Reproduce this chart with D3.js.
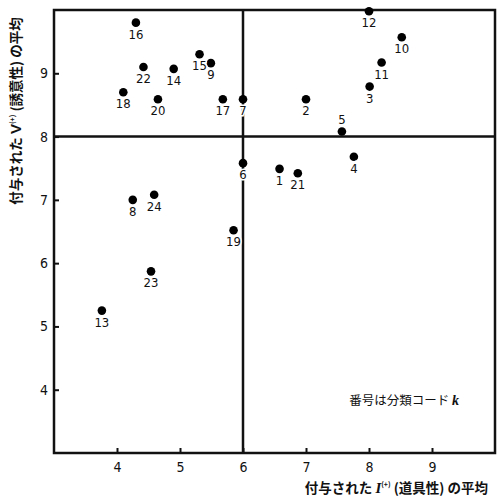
<!DOCTYPE html>
<html>
<head>
<meta charset="utf-8">
<script src="https://cdn.jsdelivr.net/npm/d3@7"></script>
<style>
  body { margin: 0; background: #fff; }
  svg { display: block; }
</style>
</head>
<body>
<div id="container"></div>
<script>
// category codes k with mean I(+) (instrumentality) and mean V(+) (valence)
const codes = [1, 2, 3, 4, 5, 6, 7, 8, 9, 10, 11, 12, 13, 14, 15, 16, 17, 18, 19, 20, 21, 22, 23, 24]
const meanI = [6.58, 7.0, 8.01, 7.76, 7.57, 6.0, 6.0, 4.25, 5.49, 8.52, 8.2, 8.0, 3.76, 4.9, 5.31, 4.3, 5.68, 4.1, 5.85, 4.65, 6.87, 4.42, 4.54, 4.59]
const meanV = [7.49, 8.59, 8.79, 7.68, 8.08, 7.58, 8.59, 7.0, 9.16, 9.57, 9.17, 9.98, 5.25, 9.07, 9.3, 9.8, 8.59, 8.7, 6.52, 8.59, 7.42, 9.1, 5.87, 7.08]
const labelAbove = [5]
const xTicks = [4, 5, 6, 7, 8, 9]
const yTicks = [4, 5, 6, 7, 8, 9]
const xSplit = 6
const ySplit = 8

const width = 497
const height = 501
const margin = { top: 10, right: 2, bottom: 48, left: 54 }
const labelFont = '"Liberation Sans Narrow", "DejaVu Sans Condensed", "Liberation Sans", sans-serif'
const jpFont = '"Noto Sans CJK JP", sans-serif'

const svg = d3.select('#container')
  .append('svg')
  .attr('width', width)
  .attr('height', height)

const x = d3.scaleLinear().domain([3, 10]).range([margin.left, width - margin.right])
const y = d3.scaleLinear().domain([3, 10]).range([height - margin.bottom, margin.top])

// axes with short inward ticks
const xAxis = svg.append('g')
  .attr('transform', `translate(0,${y(3)})`)
  .call(d3.axisBottom(x).tickValues(xTicks).tickSize(-5).tickPadding(9).tickFormat(d3.format('d')))
xAxis.select('.domain').remove()
xAxis.selectAll('line').attr('stroke', '#111').attr('stroke-width', 2)
xAxis.selectAll('text')
  .attr('font-family', labelFont)
  .attr('font-size', 14)
  .attr('fill', '#111')

const yAxis = svg.append('g')
  .attr('transform', `translate(${x(3)},0)`)
  .call(d3.axisLeft(y).tickValues(yTicks).tickSize(-5).tickPadding(6).tickFormat(d3.format('d')))
yAxis.select('.domain').remove()
yAxis.selectAll('line').attr('stroke', '#111').attr('stroke-width', 2)
yAxis.selectAll('text')
  .attr('font-family', labelFont)
  .attr('font-size', 14)
  .attr('fill', '#111')

// frame
svg.append('rect')
  .attr('x', x(3))
  .attr('y', y(10))
  .attr('width', x(10) - x(3))
  .attr('height', y(3) - y(10))
  .attr('fill', 'none')
  .attr('stroke', '#111')
  .attr('stroke-width', 2.5)

// quadrant lines
svg.append('line')
  .attr('x1', x(xSplit)).attr('x2', x(xSplit))
  .attr('y1', y(10)).attr('y2', y(3))
  .attr('stroke', '#111').attr('stroke-width', 2.5)
svg.append('line')
  .attr('x1', x(3)).attr('x2', x(10))
  .attr('y1', y(ySplit)).attr('y2', y(ySplit))
  .attr('stroke', '#111').attr('stroke-width', 2.5)

const points = codes.map((k, i) => ({ k: k, xi: meanI[i], vi: meanV[i] }))

svg.append('g')
  .selectAll('circle')
  .data(points)
  .enter()
  .append('circle')
  .attr('cx', d => x(d.xi))
  .attr('cy', d => y(d.vi))
  .attr('r', 4.3)
  .attr('fill', '#000')

// labels knock out the lines behind them, like the printed figure
svg.append('g')
  .selectAll('text')
  .data(points)
  .enter()
  .append('text')
  .attr('x', d => x(d.xi))
  .attr('y', d => labelAbove.includes(d.k) ? y(d.vi) - 8 : y(d.vi) + 16)
  .attr('text-anchor', 'middle')
  .attr('font-family', labelFont)
  .attr('font-size', 13)
  .attr('fill', '#111')
  .attr('stroke', '#fff')
  .attr('stroke-width', 3)
  .attr('paint-order', 'stroke')
  .text(d => d.k)

// note
const note = svg.append('text')
  .attr('x', 459)
  .attr('y', 405)
  .attr('text-anchor', 'end')
  .attr('font-family', jpFont)
  .attr('font-size', 12.5)
  .attr('fill', '#111')
note.append('tspan').text('番号は分類コード ')
note.append('tspan')
  .attr('font-family', '"Liberation Serif", serif')
  .attr('font-style', 'italic')
  .attr('font-weight', 'bold')
  .attr('font-size', 14)
  .text('k')

// x title
const xTitle = svg.append('text')
  .attr('x', 488)
  .attr('y', 493)
  .attr('text-anchor', 'end')
  .attr('font-family', jpFont)
  .attr('font-weight', 'bold')
  .attr('font-size', 13.5)
  .attr('fill', '#111')
xTitle.append('tspan').text('付与された ')
xTitle.append('tspan')
  .attr('font-family', '"Liberation Serif", serif')
  .attr('font-style', 'italic')
  .attr('font-size', 15)
  .text('I')
xTitle.append('tspan').attr('font-size', 7).attr('dy', -6).text('(+)')
xTitle.append('tspan').attr('dy', 6).text(' (道具性) の平均')

// y title
const yTitle = svg.append('text')
  .attr('transform', 'translate(21,111) rotate(-90)')
  .attr('text-anchor', 'middle')
  .attr('font-family', jpFont)
  .attr('font-weight', 'bold')
  .attr('font-size', 13.5)
  .attr('fill', '#111')
yTitle.append('tspan').text('付与された ')
yTitle.append('tspan')
  .attr('font-family', '"Liberation Sans", sans-serif')
  .attr('font-size', 15)
  .text('V')
yTitle.append('tspan').attr('font-size', 7).attr('dy', -6).text('(+)')
yTitle.append('tspan').attr('dy', 6).text(' (誘意性) の平均')
</script>
</body>
</html>
